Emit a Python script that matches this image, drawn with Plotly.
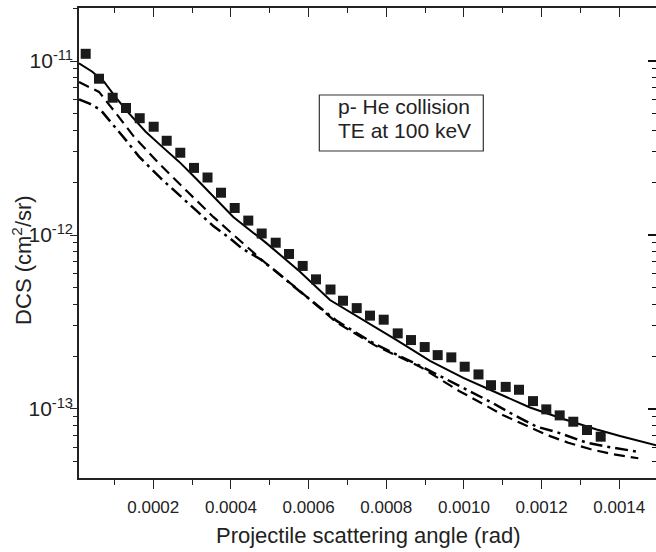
import plotly.graph_objects as go

# Experimental points (squares)
x_exp = [2.60e-5, 6.03e-5, 9.55e-5, 1.298e-4, 1.651e-4, 2.011e-4, 2.346e-4, 2.696e-4,
         3.049e-4, 3.397e-4, 3.744e-4, 4.097e-4, 4.447e-4, 4.792e-4, 5.153e-4, 5.495e-4,
         5.848e-4, 6.191e-4, 6.564e-4, 6.886e-4, 7.239e-4, 7.581e-4, 7.934e-4, 8.295e-4,
         8.637e-4, 8.990e-4, 9.324e-4, 9.675e-4, 1.0020e-3, 1.0375e-3, 1.0697e-3, 1.1076e-3,
         1.1418e-3, 1.1779e-3, 1.2121e-3, 1.2466e-3, 1.2816e-3, 1.3169e-3, 1.3522e-3]
y_exp = [1.10e-11, 7.91e-12, 6.15e-12, 5.37e-12, 4.69e-12, 4.19e-12, 3.48e-12, 2.97e-12,
         2.43e-12, 2.14e-12, 1.75e-12, 1.43e-12, 1.21e-12, 1.02e-12, 9.03e-13, 7.78e-13,
         6.64e-13, 5.56e-13, 4.86e-13, 4.19e-13, 3.80e-13, 3.44e-13, 3.26e-13, 2.72e-13,
         2.49e-13, 2.27e-13, 2.04e-13, 1.98e-13, 1.75e-13, 1.58e-13, 1.37e-13, 1.34e-13,
         1.29e-13, 1.11e-13, 9.95e-14, 9.19e-14, 8.45e-14, 7.57e-14, 6.93e-14]

# Solid curve
x_solid = [8.8e-6, 4.30e-5, 7.31e-5, 1.033e-4, 1.375e-4, 1.805e-4, 2.233e-4, 2.663e-4,
           3.093e-4, 4.061e-4, 4.921e-4, 5.779e-4, 6.551e-4, 7.409e-4, 8.269e-4, 9.126e-4,
           9.984e-4, 1.0844e-3, 1.1701e-3, 1.2559e-3, 1.3419e-3, 1.4019e-3, 1.50e-3]
y_solid = [9.70e-12, 8.68e-12, 7.60e-12, 6.18e-12, 5.00e-12, 3.92e-12, 3.21e-12, 2.64e-12,
           2.12e-12, 1.27e-12, 8.95e-13, 6.15e-13, 4.23e-13, 3.25e-13, 2.49e-13, 1.89e-13,
           1.51e-13, 1.24e-13, 1.02e-13, 8.76e-14, 7.62e-14, 6.99e-14, 6.15e-14]

# Dashed curve
x_dash = [8.8e-6, 6.03e-5, 1.033e-4, 1.504e-4, 2.104e-4, 2.490e-4, 3.546e-4, 4.061e-4,
          4.749e-4, 5.264e-4, 5.694e-4, 6.724e-4, 7.710e-4, 8.869e-4, 9.873e-4, 1.0458e-3,
          1.1014e-3, 1.1573e-3, 1.2131e-3, 1.2688e-3, 1.3246e-3, 1.3805e-3, 1.4490e-3]
y_dash = [7.57e-12, 6.64e-12, 5.03e-12, 3.67e-12, 2.64e-12, 2.16e-12, 1.27e-12, 1.00e-12,
          7.34e-13, 5.89e-13, 4.94e-13, 3.14e-13, 2.32e-13, 1.75e-13, 1.27e-13, 1.08e-13,
          9.20e-14, 8.09e-14, 7.10e-14, 6.40e-14, 5.89e-14, 5.51e-14, 5.21e-14]

# Dash-dot curve
x_dd = [8.8e-6, 3.45e-5, 6.46e-5, 9.45e-5, 1.290e-4, 1.633e-4, 1.934e-4, 2.191e-4,
        3.538e-4, 3.976e-4, 4.277e-4, 4.749e-4, 5.212e-4, 5.650e-4, 6.724e-4, 7.710e-4,
        8.869e-4, 9.873e-4, 1.0715e-3, 1.1135e-3, 1.1529e-3, 1.1874e-3, 1.2389e-3, 1.2816e-3,
        1.3161e-3, 1.3607e-3, 1.4019e-3, 1.4449e-3]
y_dd = [6.02e-12, 5.71e-12, 5.23e-12, 4.38e-12, 3.52e-12, 2.82e-12, 2.42e-12, 2.12e-12,
        1.13e-12, 9.57e-13, 8.39e-13, 7.28e-13, 6.05e-13, 4.99e-13, 3.21e-13, 2.36e-13,
        1.77e-13, 1.36e-13, 1.09e-13, 9.64e-14, 8.64e-14, 7.91e-14, 7.37e-14, 6.79e-14,
        6.40e-14, 6.12e-14, 5.89e-14, 5.69e-14]

# Tick labels
y_tickvals = [1e-13, 1e-12, 1e-11]
y_ticktext = ["10<sup>-13</sup>", "10<sup>-12</sup>", "10<sup>-11</sup>"]
y_minor_vals = [m * 10.0 ** e for e in (-14, -13, -12, -11) for m in range(2, 10)]

x_range = [8.76e-6, 1.4946e-3]
y_range = [-13.3966, -10.6954]

INK = "#222222"
FONT = "Liberation Sans, Arial, sans-serif"

fig = go.Figure()
fig.add_trace(go.Scatter(x=x_solid, y=y_solid, mode="lines",
                         line=dict(color="black", width=2), showlegend=False))
fig.add_trace(go.Scatter(x=x_dash, y=y_dash, mode="lines",
                         line=dict(color="black", width=2.2, dash="11px,6px"), showlegend=False))
fig.add_trace(go.Scatter(x=x_dd, y=y_dd, mode="lines",
                         line=dict(color="black", width=2.5, dash="13px,5px,3px,5px"),
                         showlegend=False))
fig.add_trace(go.Scatter(x=x_exp, y=y_exp, mode="markers",
                         marker=dict(symbol="square", size=10, color="#1a1a1a",
                                     line=dict(width=0)), showlegend=False))
# invisible copy on the mirrored axes so the top / right frame gets drawn
fig.add_trace(go.Scatter(x=x_exp, y=y_exp, mode="markers", xaxis="x2", yaxis="y2",
                         marker=dict(size=1, opacity=0), hoverinfo="skip",
                         showlegend=False))

fig.update_layout(
    width=656, height=552,
    margin=dict(l=79, r=0, t=8, b=74),
    paper_bgcolor="white", plot_bgcolor="white",
    font=dict(family=FONT, color=INK),
    xaxis=dict(
        range=x_range, autorange=False, showgrid=False, zeroline=False,
        tick0=0, dtick=0.0002, tickformat=".4f",
        ticks="outside", ticklen=9, tickwidth=1.3, tickcolor=INK,
        showline=True, linewidth=1.5, linecolor=INK,
        tickfont=dict(size=17, family=FONT, color=INK),
        ticklabelstandoff=4,
        minor=dict(tick0=0, dtick=0.0001, ticks="outside", ticklen=5,
                   tickwidth=1.3, tickcolor=INK, showgrid=False),
    ),
    xaxis2=dict(
        overlaying="x", side="top", anchor="y",
        range=x_range, autorange=False, showgrid=False, zeroline=False,
        tick0=0, dtick=0.0002, showticklabels=False,
        ticks="inside", ticklen=9, tickwidth=1.3, tickcolor=INK,
        showline=True, linewidth=1.5, linecolor=INK,
        minor=dict(tick0=0, dtick=0.0001, ticks="inside", ticklen=5,
                   tickwidth=1.3, tickcolor=INK, showgrid=False),
    ),
    yaxis=dict(
        type="log", range=y_range, autorange=False, showgrid=False, zeroline=False,
        tickmode="array", tickvals=y_tickvals, ticktext=y_ticktext,
        ticks="outside", ticklen=7, tickwidth=1.3, tickcolor=INK,
        showline=True, linewidth=1.5, linecolor=INK,
        tickfont=dict(size=21, family=FONT, color=INK),
        ticklabelstandoff=-7,
        minor=dict(tickmode="array", tickvals=y_minor_vals, ticks="outside", ticklen=4,
                   tickwidth=1.3, tickcolor=INK, showgrid=False),
    ),
    yaxis2=dict(
        overlaying="y", side="right", anchor="x",
        type="log", range=y_range, autorange=False, showgrid=False, zeroline=False,
        tickmode="array", tickvals=y_tickvals, showticklabels=False,
        ticks="inside", ticklen=8, tickwidth=1.5, tickcolor="#111111",
        showline=False,
        minor=dict(tickmode="array", tickvals=y_minor_vals, ticks="inside", ticklen=4,
                   tickwidth=1.3, tickcolor="#111111", showgrid=False),
    ),
)

# Text box
fig.add_shape(type="rect", xref="paper", yref="paper",
              x0=0.4165, x1=0.7007, y0=0.6957, y1=0.8149,
              line=dict(color="#333333", width=1.2), fillcolor="rgba(0,0,0,0)")
fig.add_annotation(xref="paper", yref="paper", x=0.5633, y=0.7894,
                   text="p- He collision", showarrow=False,
                   xanchor="center", yanchor="middle",
                   font=dict(size=21, family=FONT, color=INK))
fig.add_annotation(xref="paper", yref="paper", x=0.5633, y=0.7404,
                   text="TE at 100 keV", showarrow=False,
                   xanchor="center", yanchor="middle",
                   font=dict(size=21, family=FONT, color=INK))

# Axis titles
fig.add_annotation(xref="paper", yref="paper", x=0.5009, y=-0.1234,
                   text="Projectile scattering angle (rad)", showarrow=False,
                   xanchor="center", yanchor="middle",
                   font=dict(size=22, family=FONT, color=INK))
fig.add_annotation(xref="paper", yref="paper", x=-0.099, y=0.4638,
                   text="DCS (cm<sup>2</sup>/sr)", showarrow=False, textangle=-90,
                   xanchor="center", yanchor="middle",
                   font=dict(size=22, family=FONT, color=INK))

fig.write_html("out.html")
